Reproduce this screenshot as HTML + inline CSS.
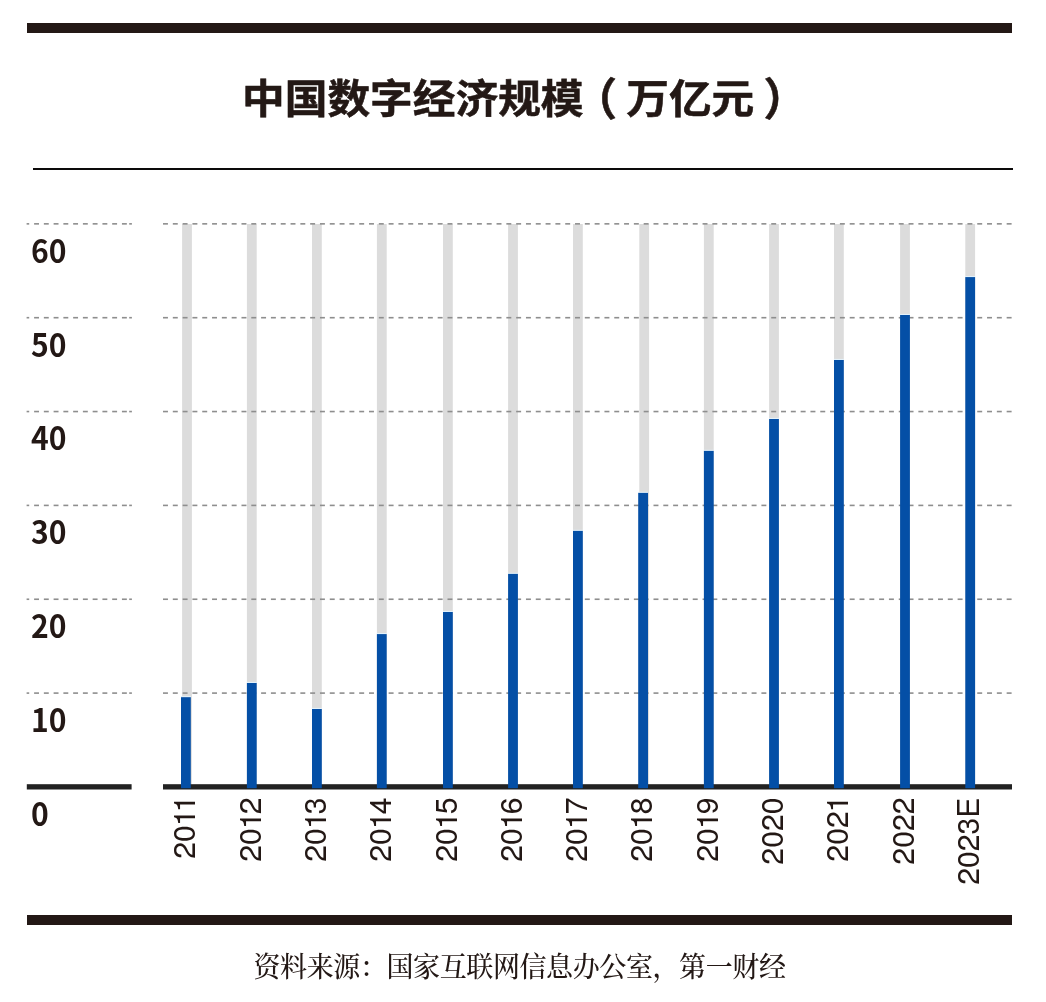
<!DOCTYPE html>
<html lang="zh-CN"><head><meta charset="utf-8"><title>中国数字经济规模</title>
<style>
html,body{margin:0;padding:0;background:#fff;}
body{width:1046px;height:1002px;position:relative;overflow:hidden;}
.chart{position:absolute;left:0;top:0;}
.bar{position:absolute;background:#231815;}
.title{position:absolute;left:27px;width:985px;top:69.3px;text-spacing-trim:space-all;text-align:center;font-family:"Liberation Sans","Noto Sans CJK SC",sans-serif;font-weight:700;font-size:42.7px;line-height:60px;color:#231815;white-space:nowrap;}
.ti{display:inline-block;-webkit-text-stroke:0.6px #231815;transform:scaleY(0.93);transform-origin:50% 50%;}
.pl{position:relative;left:-9.7px;display:inline-block;transform:scale(1.02,1.12);}
.pr{position:relative;left:9.5px;display:inline-block;transform:scale(1.02,1.12);}
.rule{position:absolute;left:33px;top:168px;width:980px;height:2.3px;background:#0c0a0a;}
.yl{position:absolute;left:30.5px;font-family:"Noto Sans CJK SC",sans-serif;font-weight:700;font-size:32px;line-height:32px;color:#231815;transform:scaleX(0.94);transform-origin:0 0;}
.src{position:absolute;left:27px;width:985px;top:947.5px;font-weight:500;text-align:center;font-family:"Liberation Serif","Noto Serif CJK SC",serif;font-size:27px;letter-spacing:-0.4px;line-height:40px;transform:scaleY(1.05);transform-origin:50% 50%;text-spacing-trim:space-all;color:#231815;white-space:nowrap;}
</style></head><body>
<div class="bar" style="left:27px;top:23px;width:985px;height:10px"></div>
<div class="title"><span class="ti">中国数字经济规模<span class="pl">（</span>万亿元<span class="pr">）</span></span></div>
<div class="rule"></div>
<svg class="chart" width="1046" height="1002" viewBox="0 0 1046 1002"><rect x="182.1" y="224" width="9.8" height="562.95" fill="#dcdcdc"/><rect x="246.9" y="224" width="9.8" height="562.95" fill="#dcdcdc"/><rect x="312" y="224" width="9.8" height="562.95" fill="#dcdcdc"/><rect x="376.9" y="224" width="9.8" height="562.95" fill="#dcdcdc"/><rect x="443" y="224" width="9.8" height="562.95" fill="#dcdcdc"/><rect x="508.1" y="224" width="9.8" height="562.95" fill="#dcdcdc"/><rect x="573" y="224" width="9.8" height="562.95" fill="#dcdcdc"/><rect x="639.3" y="224" width="9.8" height="562.95" fill="#dcdcdc"/><rect x="703.9" y="224" width="9.8" height="562.95" fill="#dcdcdc"/><rect x="769.1" y="224" width="9.8" height="562.95" fill="#dcdcdc"/><rect x="834" y="224" width="9.8" height="562.95" fill="#dcdcdc"/><rect x="900.1" y="224" width="9.8" height="562.95" fill="#dcdcdc"/><rect x="965.3" y="224" width="9.8" height="562.95" fill="#dcdcdc"/><g fill="#8e8e8e"><rect x="26.6" y="223.05" width="2.6" height="1.6"/><rect x="34.1" y="223.05" width="4.9" height="1.6"/><rect x="43.86" y="223.05" width="4.9" height="1.6"/><rect x="53.62" y="223.05" width="4.9" height="1.6"/><rect x="63.38" y="223.05" width="4.9" height="1.6"/><rect x="73.14" y="223.05" width="4.9" height="1.6"/><rect x="82.9" y="223.05" width="4.9" height="1.6"/><rect x="92.66" y="223.05" width="4.9" height="1.6"/><rect x="102.42" y="223.05" width="4.9" height="1.6"/><rect x="112.18" y="223.05" width="4.9" height="1.6"/><rect x="121.94" y="223.05" width="4.9" height="1.6"/><rect x="129.2" y="223.05" width="2.7" height="1.6"/><rect x="163" y="223.05" width="4.95" height="1.6"/><rect x="172.81" y="223.05" width="4.95" height="1.6"/><rect x="182.62" y="223.05" width="4.95" height="1.6"/><rect x="192.43" y="223.05" width="4.95" height="1.6"/><rect x="202.24" y="223.05" width="4.95" height="1.6"/><rect x="212.05" y="223.05" width="4.95" height="1.6"/><rect x="221.86" y="223.05" width="4.95" height="1.6"/><rect x="231.67" y="223.05" width="4.95" height="1.6"/><rect x="241.48" y="223.05" width="4.95" height="1.6"/><rect x="251.29" y="223.05" width="4.95" height="1.6"/><rect x="261.1" y="223.05" width="4.95" height="1.6"/><rect x="270.91" y="223.05" width="4.95" height="1.6"/><rect x="280.72" y="223.05" width="4.95" height="1.6"/><rect x="290.53" y="223.05" width="4.95" height="1.6"/><rect x="300.34" y="223.05" width="4.95" height="1.6"/><rect x="310.15" y="223.05" width="4.95" height="1.6"/><rect x="319.96" y="223.05" width="4.95" height="1.6"/><rect x="329.77" y="223.05" width="4.95" height="1.6"/><rect x="339.58" y="223.05" width="4.95" height="1.6"/><rect x="349.39" y="223.05" width="4.95" height="1.6"/><rect x="359.2" y="223.05" width="4.95" height="1.6"/><rect x="369.01" y="223.05" width="4.95" height="1.6"/><rect x="378.82" y="223.05" width="4.95" height="1.6"/><rect x="388.63" y="223.05" width="4.95" height="1.6"/><rect x="398.44" y="223.05" width="4.95" height="1.6"/><rect x="408.25" y="223.05" width="4.95" height="1.6"/><rect x="418.06" y="223.05" width="4.95" height="1.6"/><rect x="427.87" y="223.05" width="4.95" height="1.6"/><rect x="437.68" y="223.05" width="4.95" height="1.6"/><rect x="447.49" y="223.05" width="4.95" height="1.6"/><rect x="457.3" y="223.05" width="4.95" height="1.6"/><rect x="467.11" y="223.05" width="4.95" height="1.6"/><rect x="476.92" y="223.05" width="4.95" height="1.6"/><rect x="486.73" y="223.05" width="4.95" height="1.6"/><rect x="496.54" y="223.05" width="4.95" height="1.6"/><rect x="506.35" y="223.05" width="4.95" height="1.6"/><rect x="516.16" y="223.05" width="4.95" height="1.6"/><rect x="525.97" y="223.05" width="4.95" height="1.6"/><rect x="535.78" y="223.05" width="4.95" height="1.6"/><rect x="545.59" y="223.05" width="4.95" height="1.6"/><rect x="555.4" y="223.05" width="4.95" height="1.6"/><rect x="565.21" y="223.05" width="4.95" height="1.6"/><rect x="575.02" y="223.05" width="4.95" height="1.6"/><rect x="584.83" y="223.05" width="4.95" height="1.6"/><rect x="594.64" y="223.05" width="4.95" height="1.6"/><rect x="604.45" y="223.05" width="4.95" height="1.6"/><rect x="614.26" y="223.05" width="4.95" height="1.6"/><rect x="624.07" y="223.05" width="4.95" height="1.6"/><rect x="633.88" y="223.05" width="4.95" height="1.6"/><rect x="643.69" y="223.05" width="4.95" height="1.6"/><rect x="653.5" y="223.05" width="4.95" height="1.6"/><rect x="663.31" y="223.05" width="4.95" height="1.6"/><rect x="673.12" y="223.05" width="4.95" height="1.6"/><rect x="682.93" y="223.05" width="4.95" height="1.6"/><rect x="692.74" y="223.05" width="4.95" height="1.6"/><rect x="702.55" y="223.05" width="4.95" height="1.6"/><rect x="712.36" y="223.05" width="4.95" height="1.6"/><rect x="722.17" y="223.05" width="4.95" height="1.6"/><rect x="731.98" y="223.05" width="4.95" height="1.6"/><rect x="741.79" y="223.05" width="4.95" height="1.6"/><rect x="751.6" y="223.05" width="4.95" height="1.6"/><rect x="761.41" y="223.05" width="4.95" height="1.6"/><rect x="771.22" y="223.05" width="4.95" height="1.6"/><rect x="781.03" y="223.05" width="4.95" height="1.6"/><rect x="790.84" y="223.05" width="4.95" height="1.6"/><rect x="800.65" y="223.05" width="4.95" height="1.6"/><rect x="810.46" y="223.05" width="4.95" height="1.6"/><rect x="820.27" y="223.05" width="4.95" height="1.6"/><rect x="830.08" y="223.05" width="4.95" height="1.6"/><rect x="839.89" y="223.05" width="4.95" height="1.6"/><rect x="849.7" y="223.05" width="4.95" height="1.6"/><rect x="859.51" y="223.05" width="4.95" height="1.6"/><rect x="869.32" y="223.05" width="4.95" height="1.6"/><rect x="879.13" y="223.05" width="4.95" height="1.6"/><rect x="888.94" y="223.05" width="4.95" height="1.6"/><rect x="898.75" y="223.05" width="4.95" height="1.6"/><rect x="908.56" y="223.05" width="4.95" height="1.6"/><rect x="918.37" y="223.05" width="4.95" height="1.6"/><rect x="928.18" y="223.05" width="4.95" height="1.6"/><rect x="937.99" y="223.05" width="4.95" height="1.6"/><rect x="947.8" y="223.05" width="4.95" height="1.6"/><rect x="957.61" y="223.05" width="4.95" height="1.6"/><rect x="967.42" y="223.05" width="4.95" height="1.6"/><rect x="977.23" y="223.05" width="4.95" height="1.6"/><rect x="987.04" y="223.05" width="4.95" height="1.6"/><rect x="996.85" y="223.05" width="4.95" height="1.6"/><rect x="1006.66" y="223.05" width="4.95" height="1.6"/><rect x="26.6" y="316.9" width="2.6" height="1.6"/><rect x="34.1" y="316.9" width="4.9" height="1.6"/><rect x="43.86" y="316.9" width="4.9" height="1.6"/><rect x="53.62" y="316.9" width="4.9" height="1.6"/><rect x="63.38" y="316.9" width="4.9" height="1.6"/><rect x="73.14" y="316.9" width="4.9" height="1.6"/><rect x="82.9" y="316.9" width="4.9" height="1.6"/><rect x="92.66" y="316.9" width="4.9" height="1.6"/><rect x="102.42" y="316.9" width="4.9" height="1.6"/><rect x="112.18" y="316.9" width="4.9" height="1.6"/><rect x="121.94" y="316.9" width="4.9" height="1.6"/><rect x="129.2" y="316.9" width="2.7" height="1.6"/><rect x="163" y="316.9" width="4.95" height="1.6"/><rect x="172.81" y="316.9" width="4.95" height="1.6"/><rect x="182.62" y="316.9" width="4.95" height="1.6"/><rect x="192.43" y="316.9" width="4.95" height="1.6"/><rect x="202.24" y="316.9" width="4.95" height="1.6"/><rect x="212.05" y="316.9" width="4.95" height="1.6"/><rect x="221.86" y="316.9" width="4.95" height="1.6"/><rect x="231.67" y="316.9" width="4.95" height="1.6"/><rect x="241.48" y="316.9" width="4.95" height="1.6"/><rect x="251.29" y="316.9" width="4.95" height="1.6"/><rect x="261.1" y="316.9" width="4.95" height="1.6"/><rect x="270.91" y="316.9" width="4.95" height="1.6"/><rect x="280.72" y="316.9" width="4.95" height="1.6"/><rect x="290.53" y="316.9" width="4.95" height="1.6"/><rect x="300.34" y="316.9" width="4.95" height="1.6"/><rect x="310.15" y="316.9" width="4.95" height="1.6"/><rect x="319.96" y="316.9" width="4.95" height="1.6"/><rect x="329.77" y="316.9" width="4.95" height="1.6"/><rect x="339.58" y="316.9" width="4.95" height="1.6"/><rect x="349.39" y="316.9" width="4.95" height="1.6"/><rect x="359.2" y="316.9" width="4.95" height="1.6"/><rect x="369.01" y="316.9" width="4.95" height="1.6"/><rect x="378.82" y="316.9" width="4.95" height="1.6"/><rect x="388.63" y="316.9" width="4.95" height="1.6"/><rect x="398.44" y="316.9" width="4.95" height="1.6"/><rect x="408.25" y="316.9" width="4.95" height="1.6"/><rect x="418.06" y="316.9" width="4.95" height="1.6"/><rect x="427.87" y="316.9" width="4.95" height="1.6"/><rect x="437.68" y="316.9" width="4.95" height="1.6"/><rect x="447.49" y="316.9" width="4.95" height="1.6"/><rect x="457.3" y="316.9" width="4.95" height="1.6"/><rect x="467.11" y="316.9" width="4.95" height="1.6"/><rect x="476.92" y="316.9" width="4.95" height="1.6"/><rect x="486.73" y="316.9" width="4.95" height="1.6"/><rect x="496.54" y="316.9" width="4.95" height="1.6"/><rect x="506.35" y="316.9" width="4.95" height="1.6"/><rect x="516.16" y="316.9" width="4.95" height="1.6"/><rect x="525.97" y="316.9" width="4.95" height="1.6"/><rect x="535.78" y="316.9" width="4.95" height="1.6"/><rect x="545.59" y="316.9" width="4.95" height="1.6"/><rect x="555.4" y="316.9" width="4.95" height="1.6"/><rect x="565.21" y="316.9" width="4.95" height="1.6"/><rect x="575.02" y="316.9" width="4.95" height="1.6"/><rect x="584.83" y="316.9" width="4.95" height="1.6"/><rect x="594.64" y="316.9" width="4.95" height="1.6"/><rect x="604.45" y="316.9" width="4.95" height="1.6"/><rect x="614.26" y="316.9" width="4.95" height="1.6"/><rect x="624.07" y="316.9" width="4.95" height="1.6"/><rect x="633.88" y="316.9" width="4.95" height="1.6"/><rect x="643.69" y="316.9" width="4.95" height="1.6"/><rect x="653.5" y="316.9" width="4.95" height="1.6"/><rect x="663.31" y="316.9" width="4.95" height="1.6"/><rect x="673.12" y="316.9" width="4.95" height="1.6"/><rect x="682.93" y="316.9" width="4.95" height="1.6"/><rect x="692.74" y="316.9" width="4.95" height="1.6"/><rect x="702.55" y="316.9" width="4.95" height="1.6"/><rect x="712.36" y="316.9" width="4.95" height="1.6"/><rect x="722.17" y="316.9" width="4.95" height="1.6"/><rect x="731.98" y="316.9" width="4.95" height="1.6"/><rect x="741.79" y="316.9" width="4.95" height="1.6"/><rect x="751.6" y="316.9" width="4.95" height="1.6"/><rect x="761.41" y="316.9" width="4.95" height="1.6"/><rect x="771.22" y="316.9" width="4.95" height="1.6"/><rect x="781.03" y="316.9" width="4.95" height="1.6"/><rect x="790.84" y="316.9" width="4.95" height="1.6"/><rect x="800.65" y="316.9" width="4.95" height="1.6"/><rect x="810.46" y="316.9" width="4.95" height="1.6"/><rect x="820.27" y="316.9" width="4.95" height="1.6"/><rect x="830.08" y="316.9" width="4.95" height="1.6"/><rect x="839.89" y="316.9" width="4.95" height="1.6"/><rect x="849.7" y="316.9" width="4.95" height="1.6"/><rect x="859.51" y="316.9" width="4.95" height="1.6"/><rect x="869.32" y="316.9" width="4.95" height="1.6"/><rect x="879.13" y="316.9" width="4.95" height="1.6"/><rect x="888.94" y="316.9" width="4.95" height="1.6"/><rect x="898.75" y="316.9" width="4.95" height="1.6"/><rect x="908.56" y="316.9" width="4.95" height="1.6"/><rect x="918.37" y="316.9" width="4.95" height="1.6"/><rect x="928.18" y="316.9" width="4.95" height="1.6"/><rect x="937.99" y="316.9" width="4.95" height="1.6"/><rect x="947.8" y="316.9" width="4.95" height="1.6"/><rect x="957.61" y="316.9" width="4.95" height="1.6"/><rect x="967.42" y="316.9" width="4.95" height="1.6"/><rect x="977.23" y="316.9" width="4.95" height="1.6"/><rect x="987.04" y="316.9" width="4.95" height="1.6"/><rect x="996.85" y="316.9" width="4.95" height="1.6"/><rect x="1006.66" y="316.9" width="4.95" height="1.6"/><rect x="26.6" y="410.75" width="2.6" height="1.6"/><rect x="34.1" y="410.75" width="4.9" height="1.6"/><rect x="43.86" y="410.75" width="4.9" height="1.6"/><rect x="53.62" y="410.75" width="4.9" height="1.6"/><rect x="63.38" y="410.75" width="4.9" height="1.6"/><rect x="73.14" y="410.75" width="4.9" height="1.6"/><rect x="82.9" y="410.75" width="4.9" height="1.6"/><rect x="92.66" y="410.75" width="4.9" height="1.6"/><rect x="102.42" y="410.75" width="4.9" height="1.6"/><rect x="112.18" y="410.75" width="4.9" height="1.6"/><rect x="121.94" y="410.75" width="4.9" height="1.6"/><rect x="129.2" y="410.75" width="2.7" height="1.6"/><rect x="163" y="410.75" width="4.95" height="1.6"/><rect x="172.81" y="410.75" width="4.95" height="1.6"/><rect x="182.62" y="410.75" width="4.95" height="1.6"/><rect x="192.43" y="410.75" width="4.95" height="1.6"/><rect x="202.24" y="410.75" width="4.95" height="1.6"/><rect x="212.05" y="410.75" width="4.95" height="1.6"/><rect x="221.86" y="410.75" width="4.95" height="1.6"/><rect x="231.67" y="410.75" width="4.95" height="1.6"/><rect x="241.48" y="410.75" width="4.95" height="1.6"/><rect x="251.29" y="410.75" width="4.95" height="1.6"/><rect x="261.1" y="410.75" width="4.95" height="1.6"/><rect x="270.91" y="410.75" width="4.95" height="1.6"/><rect x="280.72" y="410.75" width="4.95" height="1.6"/><rect x="290.53" y="410.75" width="4.95" height="1.6"/><rect x="300.34" y="410.75" width="4.95" height="1.6"/><rect x="310.15" y="410.75" width="4.95" height="1.6"/><rect x="319.96" y="410.75" width="4.95" height="1.6"/><rect x="329.77" y="410.75" width="4.95" height="1.6"/><rect x="339.58" y="410.75" width="4.95" height="1.6"/><rect x="349.39" y="410.75" width="4.95" height="1.6"/><rect x="359.2" y="410.75" width="4.95" height="1.6"/><rect x="369.01" y="410.75" width="4.95" height="1.6"/><rect x="378.82" y="410.75" width="4.95" height="1.6"/><rect x="388.63" y="410.75" width="4.95" height="1.6"/><rect x="398.44" y="410.75" width="4.95" height="1.6"/><rect x="408.25" y="410.75" width="4.95" height="1.6"/><rect x="418.06" y="410.75" width="4.95" height="1.6"/><rect x="427.87" y="410.75" width="4.95" height="1.6"/><rect x="437.68" y="410.75" width="4.95" height="1.6"/><rect x="447.49" y="410.75" width="4.95" height="1.6"/><rect x="457.3" y="410.75" width="4.95" height="1.6"/><rect x="467.11" y="410.75" width="4.95" height="1.6"/><rect x="476.92" y="410.75" width="4.95" height="1.6"/><rect x="486.73" y="410.75" width="4.95" height="1.6"/><rect x="496.54" y="410.75" width="4.95" height="1.6"/><rect x="506.35" y="410.75" width="4.95" height="1.6"/><rect x="516.16" y="410.75" width="4.95" height="1.6"/><rect x="525.97" y="410.75" width="4.95" height="1.6"/><rect x="535.78" y="410.75" width="4.95" height="1.6"/><rect x="545.59" y="410.75" width="4.95" height="1.6"/><rect x="555.4" y="410.75" width="4.95" height="1.6"/><rect x="565.21" y="410.75" width="4.95" height="1.6"/><rect x="575.02" y="410.75" width="4.95" height="1.6"/><rect x="584.83" y="410.75" width="4.95" height="1.6"/><rect x="594.64" y="410.75" width="4.95" height="1.6"/><rect x="604.45" y="410.75" width="4.95" height="1.6"/><rect x="614.26" y="410.75" width="4.95" height="1.6"/><rect x="624.07" y="410.75" width="4.95" height="1.6"/><rect x="633.88" y="410.75" width="4.95" height="1.6"/><rect x="643.69" y="410.75" width="4.95" height="1.6"/><rect x="653.5" y="410.75" width="4.95" height="1.6"/><rect x="663.31" y="410.75" width="4.95" height="1.6"/><rect x="673.12" y="410.75" width="4.95" height="1.6"/><rect x="682.93" y="410.75" width="4.95" height="1.6"/><rect x="692.74" y="410.75" width="4.95" height="1.6"/><rect x="702.55" y="410.75" width="4.95" height="1.6"/><rect x="712.36" y="410.75" width="4.95" height="1.6"/><rect x="722.17" y="410.75" width="4.95" height="1.6"/><rect x="731.98" y="410.75" width="4.95" height="1.6"/><rect x="741.79" y="410.75" width="4.95" height="1.6"/><rect x="751.6" y="410.75" width="4.95" height="1.6"/><rect x="761.41" y="410.75" width="4.95" height="1.6"/><rect x="771.22" y="410.75" width="4.95" height="1.6"/><rect x="781.03" y="410.75" width="4.95" height="1.6"/><rect x="790.84" y="410.75" width="4.95" height="1.6"/><rect x="800.65" y="410.75" width="4.95" height="1.6"/><rect x="810.46" y="410.75" width="4.95" height="1.6"/><rect x="820.27" y="410.75" width="4.95" height="1.6"/><rect x="830.08" y="410.75" width="4.95" height="1.6"/><rect x="839.89" y="410.75" width="4.95" height="1.6"/><rect x="849.7" y="410.75" width="4.95" height="1.6"/><rect x="859.51" y="410.75" width="4.95" height="1.6"/><rect x="869.32" y="410.75" width="4.95" height="1.6"/><rect x="879.13" y="410.75" width="4.95" height="1.6"/><rect x="888.94" y="410.75" width="4.95" height="1.6"/><rect x="898.75" y="410.75" width="4.95" height="1.6"/><rect x="908.56" y="410.75" width="4.95" height="1.6"/><rect x="918.37" y="410.75" width="4.95" height="1.6"/><rect x="928.18" y="410.75" width="4.95" height="1.6"/><rect x="937.99" y="410.75" width="4.95" height="1.6"/><rect x="947.8" y="410.75" width="4.95" height="1.6"/><rect x="957.61" y="410.75" width="4.95" height="1.6"/><rect x="967.42" y="410.75" width="4.95" height="1.6"/><rect x="977.23" y="410.75" width="4.95" height="1.6"/><rect x="987.04" y="410.75" width="4.95" height="1.6"/><rect x="996.85" y="410.75" width="4.95" height="1.6"/><rect x="1006.66" y="410.75" width="4.95" height="1.6"/><rect x="26.6" y="504.6" width="2.6" height="1.6"/><rect x="34.1" y="504.6" width="4.9" height="1.6"/><rect x="43.86" y="504.6" width="4.9" height="1.6"/><rect x="53.62" y="504.6" width="4.9" height="1.6"/><rect x="63.38" y="504.6" width="4.9" height="1.6"/><rect x="73.14" y="504.6" width="4.9" height="1.6"/><rect x="82.9" y="504.6" width="4.9" height="1.6"/><rect x="92.66" y="504.6" width="4.9" height="1.6"/><rect x="102.42" y="504.6" width="4.9" height="1.6"/><rect x="112.18" y="504.6" width="4.9" height="1.6"/><rect x="121.94" y="504.6" width="4.9" height="1.6"/><rect x="129.2" y="504.6" width="2.7" height="1.6"/><rect x="163" y="504.6" width="4.95" height="1.6"/><rect x="172.81" y="504.6" width="4.95" height="1.6"/><rect x="182.62" y="504.6" width="4.95" height="1.6"/><rect x="192.43" y="504.6" width="4.95" height="1.6"/><rect x="202.24" y="504.6" width="4.95" height="1.6"/><rect x="212.05" y="504.6" width="4.95" height="1.6"/><rect x="221.86" y="504.6" width="4.95" height="1.6"/><rect x="231.67" y="504.6" width="4.95" height="1.6"/><rect x="241.48" y="504.6" width="4.95" height="1.6"/><rect x="251.29" y="504.6" width="4.95" height="1.6"/><rect x="261.1" y="504.6" width="4.95" height="1.6"/><rect x="270.91" y="504.6" width="4.95" height="1.6"/><rect x="280.72" y="504.6" width="4.95" height="1.6"/><rect x="290.53" y="504.6" width="4.95" height="1.6"/><rect x="300.34" y="504.6" width="4.95" height="1.6"/><rect x="310.15" y="504.6" width="4.95" height="1.6"/><rect x="319.96" y="504.6" width="4.95" height="1.6"/><rect x="329.77" y="504.6" width="4.95" height="1.6"/><rect x="339.58" y="504.6" width="4.95" height="1.6"/><rect x="349.39" y="504.6" width="4.95" height="1.6"/><rect x="359.2" y="504.6" width="4.95" height="1.6"/><rect x="369.01" y="504.6" width="4.95" height="1.6"/><rect x="378.82" y="504.6" width="4.95" height="1.6"/><rect x="388.63" y="504.6" width="4.95" height="1.6"/><rect x="398.44" y="504.6" width="4.95" height="1.6"/><rect x="408.25" y="504.6" width="4.95" height="1.6"/><rect x="418.06" y="504.6" width="4.95" height="1.6"/><rect x="427.87" y="504.6" width="4.95" height="1.6"/><rect x="437.68" y="504.6" width="4.95" height="1.6"/><rect x="447.49" y="504.6" width="4.95" height="1.6"/><rect x="457.3" y="504.6" width="4.95" height="1.6"/><rect x="467.11" y="504.6" width="4.95" height="1.6"/><rect x="476.92" y="504.6" width="4.95" height="1.6"/><rect x="486.73" y="504.6" width="4.95" height="1.6"/><rect x="496.54" y="504.6" width="4.95" height="1.6"/><rect x="506.35" y="504.6" width="4.95" height="1.6"/><rect x="516.16" y="504.6" width="4.95" height="1.6"/><rect x="525.97" y="504.6" width="4.95" height="1.6"/><rect x="535.78" y="504.6" width="4.95" height="1.6"/><rect x="545.59" y="504.6" width="4.95" height="1.6"/><rect x="555.4" y="504.6" width="4.95" height="1.6"/><rect x="565.21" y="504.6" width="4.95" height="1.6"/><rect x="575.02" y="504.6" width="4.95" height="1.6"/><rect x="584.83" y="504.6" width="4.95" height="1.6"/><rect x="594.64" y="504.6" width="4.95" height="1.6"/><rect x="604.45" y="504.6" width="4.95" height="1.6"/><rect x="614.26" y="504.6" width="4.95" height="1.6"/><rect x="624.07" y="504.6" width="4.95" height="1.6"/><rect x="633.88" y="504.6" width="4.95" height="1.6"/><rect x="643.69" y="504.6" width="4.95" height="1.6"/><rect x="653.5" y="504.6" width="4.95" height="1.6"/><rect x="663.31" y="504.6" width="4.95" height="1.6"/><rect x="673.12" y="504.6" width="4.95" height="1.6"/><rect x="682.93" y="504.6" width="4.95" height="1.6"/><rect x="692.74" y="504.6" width="4.95" height="1.6"/><rect x="702.55" y="504.6" width="4.95" height="1.6"/><rect x="712.36" y="504.6" width="4.95" height="1.6"/><rect x="722.17" y="504.6" width="4.95" height="1.6"/><rect x="731.98" y="504.6" width="4.95" height="1.6"/><rect x="741.79" y="504.6" width="4.95" height="1.6"/><rect x="751.6" y="504.6" width="4.95" height="1.6"/><rect x="761.41" y="504.6" width="4.95" height="1.6"/><rect x="771.22" y="504.6" width="4.95" height="1.6"/><rect x="781.03" y="504.6" width="4.95" height="1.6"/><rect x="790.84" y="504.6" width="4.95" height="1.6"/><rect x="800.65" y="504.6" width="4.95" height="1.6"/><rect x="810.46" y="504.6" width="4.95" height="1.6"/><rect x="820.27" y="504.6" width="4.95" height="1.6"/><rect x="830.08" y="504.6" width="4.95" height="1.6"/><rect x="839.89" y="504.6" width="4.95" height="1.6"/><rect x="849.7" y="504.6" width="4.95" height="1.6"/><rect x="859.51" y="504.6" width="4.95" height="1.6"/><rect x="869.32" y="504.6" width="4.95" height="1.6"/><rect x="879.13" y="504.6" width="4.95" height="1.6"/><rect x="888.94" y="504.6" width="4.95" height="1.6"/><rect x="898.75" y="504.6" width="4.95" height="1.6"/><rect x="908.56" y="504.6" width="4.95" height="1.6"/><rect x="918.37" y="504.6" width="4.95" height="1.6"/><rect x="928.18" y="504.6" width="4.95" height="1.6"/><rect x="937.99" y="504.6" width="4.95" height="1.6"/><rect x="947.8" y="504.6" width="4.95" height="1.6"/><rect x="957.61" y="504.6" width="4.95" height="1.6"/><rect x="967.42" y="504.6" width="4.95" height="1.6"/><rect x="977.23" y="504.6" width="4.95" height="1.6"/><rect x="987.04" y="504.6" width="4.95" height="1.6"/><rect x="996.85" y="504.6" width="4.95" height="1.6"/><rect x="1006.66" y="504.6" width="4.95" height="1.6"/><rect x="26.6" y="598.45" width="2.6" height="1.6"/><rect x="34.1" y="598.45" width="4.9" height="1.6"/><rect x="43.86" y="598.45" width="4.9" height="1.6"/><rect x="53.62" y="598.45" width="4.9" height="1.6"/><rect x="63.38" y="598.45" width="4.9" height="1.6"/><rect x="73.14" y="598.45" width="4.9" height="1.6"/><rect x="82.9" y="598.45" width="4.9" height="1.6"/><rect x="92.66" y="598.45" width="4.9" height="1.6"/><rect x="102.42" y="598.45" width="4.9" height="1.6"/><rect x="112.18" y="598.45" width="4.9" height="1.6"/><rect x="121.94" y="598.45" width="4.9" height="1.6"/><rect x="129.2" y="598.45" width="2.7" height="1.6"/><rect x="163" y="598.45" width="4.95" height="1.6"/><rect x="172.81" y="598.45" width="4.95" height="1.6"/><rect x="182.62" y="598.45" width="4.95" height="1.6"/><rect x="192.43" y="598.45" width="4.95" height="1.6"/><rect x="202.24" y="598.45" width="4.95" height="1.6"/><rect x="212.05" y="598.45" width="4.95" height="1.6"/><rect x="221.86" y="598.45" width="4.95" height="1.6"/><rect x="231.67" y="598.45" width="4.95" height="1.6"/><rect x="241.48" y="598.45" width="4.95" height="1.6"/><rect x="251.29" y="598.45" width="4.95" height="1.6"/><rect x="261.1" y="598.45" width="4.95" height="1.6"/><rect x="270.91" y="598.45" width="4.95" height="1.6"/><rect x="280.72" y="598.45" width="4.95" height="1.6"/><rect x="290.53" y="598.45" width="4.95" height="1.6"/><rect x="300.34" y="598.45" width="4.95" height="1.6"/><rect x="310.15" y="598.45" width="4.95" height="1.6"/><rect x="319.96" y="598.45" width="4.95" height="1.6"/><rect x="329.77" y="598.45" width="4.95" height="1.6"/><rect x="339.58" y="598.45" width="4.95" height="1.6"/><rect x="349.39" y="598.45" width="4.95" height="1.6"/><rect x="359.2" y="598.45" width="4.95" height="1.6"/><rect x="369.01" y="598.45" width="4.95" height="1.6"/><rect x="378.82" y="598.45" width="4.95" height="1.6"/><rect x="388.63" y="598.45" width="4.95" height="1.6"/><rect x="398.44" y="598.45" width="4.95" height="1.6"/><rect x="408.25" y="598.45" width="4.95" height="1.6"/><rect x="418.06" y="598.45" width="4.95" height="1.6"/><rect x="427.87" y="598.45" width="4.95" height="1.6"/><rect x="437.68" y="598.45" width="4.95" height="1.6"/><rect x="447.49" y="598.45" width="4.95" height="1.6"/><rect x="457.3" y="598.45" width="4.95" height="1.6"/><rect x="467.11" y="598.45" width="4.95" height="1.6"/><rect x="476.92" y="598.45" width="4.95" height="1.6"/><rect x="486.73" y="598.45" width="4.95" height="1.6"/><rect x="496.54" y="598.45" width="4.95" height="1.6"/><rect x="506.35" y="598.45" width="4.95" height="1.6"/><rect x="516.16" y="598.45" width="4.95" height="1.6"/><rect x="525.97" y="598.45" width="4.95" height="1.6"/><rect x="535.78" y="598.45" width="4.95" height="1.6"/><rect x="545.59" y="598.45" width="4.95" height="1.6"/><rect x="555.4" y="598.45" width="4.95" height="1.6"/><rect x="565.21" y="598.45" width="4.95" height="1.6"/><rect x="575.02" y="598.45" width="4.95" height="1.6"/><rect x="584.83" y="598.45" width="4.95" height="1.6"/><rect x="594.64" y="598.45" width="4.95" height="1.6"/><rect x="604.45" y="598.45" width="4.95" height="1.6"/><rect x="614.26" y="598.45" width="4.95" height="1.6"/><rect x="624.07" y="598.45" width="4.95" height="1.6"/><rect x="633.88" y="598.45" width="4.95" height="1.6"/><rect x="643.69" y="598.45" width="4.95" height="1.6"/><rect x="653.5" y="598.45" width="4.95" height="1.6"/><rect x="663.31" y="598.45" width="4.95" height="1.6"/><rect x="673.12" y="598.45" width="4.95" height="1.6"/><rect x="682.93" y="598.45" width="4.95" height="1.6"/><rect x="692.74" y="598.45" width="4.95" height="1.6"/><rect x="702.55" y="598.45" width="4.95" height="1.6"/><rect x="712.36" y="598.45" width="4.95" height="1.6"/><rect x="722.17" y="598.45" width="4.95" height="1.6"/><rect x="731.98" y="598.45" width="4.95" height="1.6"/><rect x="741.79" y="598.45" width="4.95" height="1.6"/><rect x="751.6" y="598.45" width="4.95" height="1.6"/><rect x="761.41" y="598.45" width="4.95" height="1.6"/><rect x="771.22" y="598.45" width="4.95" height="1.6"/><rect x="781.03" y="598.45" width="4.95" height="1.6"/><rect x="790.84" y="598.45" width="4.95" height="1.6"/><rect x="800.65" y="598.45" width="4.95" height="1.6"/><rect x="810.46" y="598.45" width="4.95" height="1.6"/><rect x="820.27" y="598.45" width="4.95" height="1.6"/><rect x="830.08" y="598.45" width="4.95" height="1.6"/><rect x="839.89" y="598.45" width="4.95" height="1.6"/><rect x="849.7" y="598.45" width="4.95" height="1.6"/><rect x="859.51" y="598.45" width="4.95" height="1.6"/><rect x="869.32" y="598.45" width="4.95" height="1.6"/><rect x="879.13" y="598.45" width="4.95" height="1.6"/><rect x="888.94" y="598.45" width="4.95" height="1.6"/><rect x="898.75" y="598.45" width="4.95" height="1.6"/><rect x="908.56" y="598.45" width="4.95" height="1.6"/><rect x="918.37" y="598.45" width="4.95" height="1.6"/><rect x="928.18" y="598.45" width="4.95" height="1.6"/><rect x="937.99" y="598.45" width="4.95" height="1.6"/><rect x="947.8" y="598.45" width="4.95" height="1.6"/><rect x="957.61" y="598.45" width="4.95" height="1.6"/><rect x="967.42" y="598.45" width="4.95" height="1.6"/><rect x="977.23" y="598.45" width="4.95" height="1.6"/><rect x="987.04" y="598.45" width="4.95" height="1.6"/><rect x="996.85" y="598.45" width="4.95" height="1.6"/><rect x="1006.66" y="598.45" width="4.95" height="1.6"/><rect x="26.6" y="692.3" width="2.6" height="1.6"/><rect x="34.1" y="692.3" width="4.9" height="1.6"/><rect x="43.86" y="692.3" width="4.9" height="1.6"/><rect x="53.62" y="692.3" width="4.9" height="1.6"/><rect x="63.38" y="692.3" width="4.9" height="1.6"/><rect x="73.14" y="692.3" width="4.9" height="1.6"/><rect x="82.9" y="692.3" width="4.9" height="1.6"/><rect x="92.66" y="692.3" width="4.9" height="1.6"/><rect x="102.42" y="692.3" width="4.9" height="1.6"/><rect x="112.18" y="692.3" width="4.9" height="1.6"/><rect x="121.94" y="692.3" width="4.9" height="1.6"/><rect x="129.2" y="692.3" width="2.7" height="1.6"/><rect x="163" y="692.3" width="4.95" height="1.6"/><rect x="172.81" y="692.3" width="4.95" height="1.6"/><rect x="182.62" y="692.3" width="4.95" height="1.6"/><rect x="192.43" y="692.3" width="4.95" height="1.6"/><rect x="202.24" y="692.3" width="4.95" height="1.6"/><rect x="212.05" y="692.3" width="4.95" height="1.6"/><rect x="221.86" y="692.3" width="4.95" height="1.6"/><rect x="231.67" y="692.3" width="4.95" height="1.6"/><rect x="241.48" y="692.3" width="4.95" height="1.6"/><rect x="251.29" y="692.3" width="4.95" height="1.6"/><rect x="261.1" y="692.3" width="4.95" height="1.6"/><rect x="270.91" y="692.3" width="4.95" height="1.6"/><rect x="280.72" y="692.3" width="4.95" height="1.6"/><rect x="290.53" y="692.3" width="4.95" height="1.6"/><rect x="300.34" y="692.3" width="4.95" height="1.6"/><rect x="310.15" y="692.3" width="4.95" height="1.6"/><rect x="319.96" y="692.3" width="4.95" height="1.6"/><rect x="329.77" y="692.3" width="4.95" height="1.6"/><rect x="339.58" y="692.3" width="4.95" height="1.6"/><rect x="349.39" y="692.3" width="4.95" height="1.6"/><rect x="359.2" y="692.3" width="4.95" height="1.6"/><rect x="369.01" y="692.3" width="4.95" height="1.6"/><rect x="378.82" y="692.3" width="4.95" height="1.6"/><rect x="388.63" y="692.3" width="4.95" height="1.6"/><rect x="398.44" y="692.3" width="4.95" height="1.6"/><rect x="408.25" y="692.3" width="4.95" height="1.6"/><rect x="418.06" y="692.3" width="4.95" height="1.6"/><rect x="427.87" y="692.3" width="4.95" height="1.6"/><rect x="437.68" y="692.3" width="4.95" height="1.6"/><rect x="447.49" y="692.3" width="4.95" height="1.6"/><rect x="457.3" y="692.3" width="4.95" height="1.6"/><rect x="467.11" y="692.3" width="4.95" height="1.6"/><rect x="476.92" y="692.3" width="4.95" height="1.6"/><rect x="486.73" y="692.3" width="4.95" height="1.6"/><rect x="496.54" y="692.3" width="4.95" height="1.6"/><rect x="506.35" y="692.3" width="4.95" height="1.6"/><rect x="516.16" y="692.3" width="4.95" height="1.6"/><rect x="525.97" y="692.3" width="4.95" height="1.6"/><rect x="535.78" y="692.3" width="4.95" height="1.6"/><rect x="545.59" y="692.3" width="4.95" height="1.6"/><rect x="555.4" y="692.3" width="4.95" height="1.6"/><rect x="565.21" y="692.3" width="4.95" height="1.6"/><rect x="575.02" y="692.3" width="4.95" height="1.6"/><rect x="584.83" y="692.3" width="4.95" height="1.6"/><rect x="594.64" y="692.3" width="4.95" height="1.6"/><rect x="604.45" y="692.3" width="4.95" height="1.6"/><rect x="614.26" y="692.3" width="4.95" height="1.6"/><rect x="624.07" y="692.3" width="4.95" height="1.6"/><rect x="633.88" y="692.3" width="4.95" height="1.6"/><rect x="643.69" y="692.3" width="4.95" height="1.6"/><rect x="653.5" y="692.3" width="4.95" height="1.6"/><rect x="663.31" y="692.3" width="4.95" height="1.6"/><rect x="673.12" y="692.3" width="4.95" height="1.6"/><rect x="682.93" y="692.3" width="4.95" height="1.6"/><rect x="692.74" y="692.3" width="4.95" height="1.6"/><rect x="702.55" y="692.3" width="4.95" height="1.6"/><rect x="712.36" y="692.3" width="4.95" height="1.6"/><rect x="722.17" y="692.3" width="4.95" height="1.6"/><rect x="731.98" y="692.3" width="4.95" height="1.6"/><rect x="741.79" y="692.3" width="4.95" height="1.6"/><rect x="751.6" y="692.3" width="4.95" height="1.6"/><rect x="761.41" y="692.3" width="4.95" height="1.6"/><rect x="771.22" y="692.3" width="4.95" height="1.6"/><rect x="781.03" y="692.3" width="4.95" height="1.6"/><rect x="790.84" y="692.3" width="4.95" height="1.6"/><rect x="800.65" y="692.3" width="4.95" height="1.6"/><rect x="810.46" y="692.3" width="4.95" height="1.6"/><rect x="820.27" y="692.3" width="4.95" height="1.6"/><rect x="830.08" y="692.3" width="4.95" height="1.6"/><rect x="839.89" y="692.3" width="4.95" height="1.6"/><rect x="849.7" y="692.3" width="4.95" height="1.6"/><rect x="859.51" y="692.3" width="4.95" height="1.6"/><rect x="869.32" y="692.3" width="4.95" height="1.6"/><rect x="879.13" y="692.3" width="4.95" height="1.6"/><rect x="888.94" y="692.3" width="4.95" height="1.6"/><rect x="898.75" y="692.3" width="4.95" height="1.6"/><rect x="908.56" y="692.3" width="4.95" height="1.6"/><rect x="918.37" y="692.3" width="4.95" height="1.6"/><rect x="928.18" y="692.3" width="4.95" height="1.6"/><rect x="937.99" y="692.3" width="4.95" height="1.6"/><rect x="947.8" y="692.3" width="4.95" height="1.6"/><rect x="957.61" y="692.3" width="4.95" height="1.6"/><rect x="967.42" y="692.3" width="4.95" height="1.6"/><rect x="977.23" y="692.3" width="4.95" height="1.6"/><rect x="987.04" y="692.3" width="4.95" height="1.6"/><rect x="996.85" y="692.3" width="4.95" height="1.6"/><rect x="1006.66" y="692.3" width="4.95" height="1.6"/></g><rect x="26.8" y="784.2" width="104.8" height="5.3" fill="#222222"/><rect x="163" y="784.2" width="849" height="5.3" fill="#222222"/><rect x="181" y="696.1" width="9.8" height="1.1" fill="#e2f1fb"/><rect x="181" y="697.2" width="9.8" height="91" fill="#044fa6"/><rect x="246.9" y="681.9" width="9.8" height="1.1" fill="#e2f1fb"/><rect x="246.9" y="683" width="9.8" height="105.2" fill="#044fa6"/><rect x="312" y="707.9" width="9.8" height="1.1" fill="#e2f1fb"/><rect x="312" y="709" width="9.8" height="79.2" fill="#044fa6"/><rect x="376.9" y="633" width="9.8" height="1.1" fill="#e2f1fb"/><rect x="376.9" y="634.1" width="9.8" height="154.1" fill="#044fa6"/><rect x="443" y="610.9" width="9.8" height="1.1" fill="#e2f1fb"/><rect x="443" y="612" width="9.8" height="176.2" fill="#044fa6"/><rect x="508.1" y="572.8" width="9.8" height="1.1" fill="#e2f1fb"/><rect x="508.1" y="573.9" width="9.8" height="214.3" fill="#044fa6"/><rect x="573" y="529.8" width="9.8" height="1.1" fill="#e2f1fb"/><rect x="573" y="530.9" width="9.8" height="257.3" fill="#044fa6"/><rect x="638.2" y="491.8" width="9.8" height="1.1" fill="#e2f1fb"/><rect x="638.2" y="492.9" width="9.8" height="295.3" fill="#044fa6"/><rect x="703.9" y="449.8" width="9.8" height="1.1" fill="#e2f1fb"/><rect x="703.9" y="450.9" width="9.8" height="337.3" fill="#044fa6"/><rect x="769.1" y="417.9" width="9.8" height="1.1" fill="#e2f1fb"/><rect x="769.1" y="419" width="9.8" height="369.2" fill="#044fa6"/><rect x="834" y="358.9" width="9.8" height="1.1" fill="#e2f1fb"/><rect x="834" y="360" width="9.8" height="428.2" fill="#044fa6"/><rect x="900.1" y="313.9" width="9.8" height="1.1" fill="#e2f1fb"/><rect x="900.1" y="315" width="9.8" height="473.2" fill="#044fa6"/><rect x="965.3" y="276" width="9.8" height="1.1" fill="#e2f1fb"/><rect x="965.3" y="277.1" width="9.8" height="511.1" fill="#044fa6"/></svg>
<div class="yl" style="top:232.65px">60</div><div class="yl" style="top:326.5px">50</div><div class="yl" style="top:420.35px">40</div><div class="yl" style="top:514.2px">30</div><div class="yl" style="top:608.05px">20</div><div class="yl" style="top:701.9px">10</div><div class="yl" style="top:795.75px">0</div>
<svg class="chart" width="1046" height="1002" style="font-family:&quot;TeX Gyre Heros&quot;,&quot;Liberation Sans&quot;,sans-serif;font-size:30.2px" fill="#231815"><text transform="translate(195.1 797.5) rotate(-90)" text-anchor="end">20<tspan dx="-1" style="letter-spacing:-2px">1</tspan><tspan dx="-1" style="letter-spacing:-2px">1</tspan></text><text transform="translate(261 797.5) rotate(-90)" text-anchor="end">20<tspan dx="-1" style="letter-spacing:-2px">1</tspan>2</text><text transform="translate(326.1 797.5) rotate(-90)" text-anchor="end">20<tspan dx="-1" style="letter-spacing:-2px">1</tspan>3</text><text transform="translate(391 797.5) rotate(-90)" text-anchor="end">20<tspan dx="-1" style="letter-spacing:-2px">1</tspan>4</text><text transform="translate(457.1 797.5) rotate(-90)" text-anchor="end">20<tspan dx="-1" style="letter-spacing:-2px">1</tspan>5</text><text transform="translate(522.2 797.5) rotate(-90)" text-anchor="end">20<tspan dx="-1" style="letter-spacing:-2px">1</tspan>6</text><text transform="translate(587.1 797.5) rotate(-90)" text-anchor="end">20<tspan dx="-1" style="letter-spacing:-2px">1</tspan>7</text><text transform="translate(652.3 797.5) rotate(-90)" text-anchor="end">20<tspan dx="-1" style="letter-spacing:-2px">1</tspan>8</text><text transform="translate(718 797.5) rotate(-90)" text-anchor="end">20<tspan dx="-1" style="letter-spacing:-2px">1</tspan>9</text><text transform="translate(783.2 797.5) rotate(-90)" text-anchor="end">2020</text><text transform="translate(848.1 797.5) rotate(-90)" text-anchor="end">202<tspan dx="-1" style="letter-spacing:-2px">1</tspan></text><text transform="translate(914.2 797.5) rotate(-90)" text-anchor="end">2022</text><text transform="translate(979.4 797.5) rotate(-90)" text-anchor="end">2023E</text></svg>
<div class="bar" style="left:27px;top:915px;width:985px;height:10px"></div>
<div class="src">资料来源：国家互联网信息办公室，第一财经</div>
</body></html>
